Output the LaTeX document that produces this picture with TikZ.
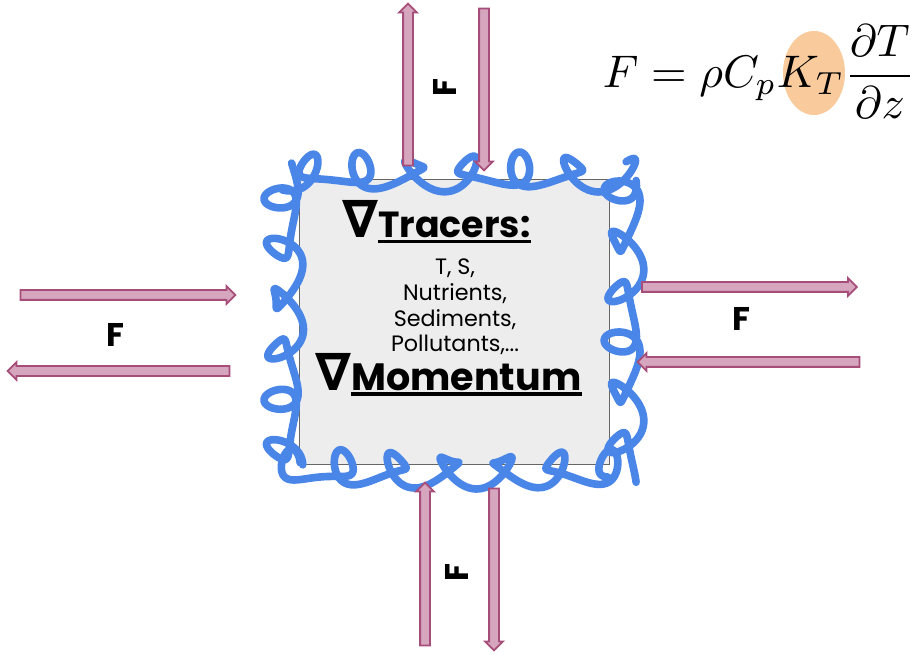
\documentclass[tikz,border=0pt]{standalone}
\usepackage{amsmath}
\usepackage{fontspec}
\setmainfont{Poppins}
\newfontfamily\symfont{DejaVu Sans}
\usetikzlibrary{shapes.arrows, positioning}
\definecolor{fluxfill}{HTML}{D5A6BD}
\definecolor{fluxedge}{HTML}{A64D79}
\definecolor{wiggle}{HTML}{4A86E8}
\definecolor{cellbg}{HTML}{EDEDED}
\definecolor{kthilite}{HTML}{F9CB9C}

\begin{document}
\begin{tikzpicture}[x=0.03cm, y=-0.03cm,
  every node/.style={text=black},
  flux/.style={single arrow, draw=fluxedge, fill=fluxfill, line width=1.5pt,
    inner xsep=0pt, inner ysep=0.12cm, minimum width=0pt,
    single arrow head extend=0.12cm, single arrow head indent=0pt},
  fluxlabel/.style={font=\fontsize{28}{30}\selectfont\bfseries, inner sep=0pt},
  headword/.style={font=\fontsize{31}{34}\selectfont\bfseries, inner sep=0pt},
  gradsym/.style={font=\fontsize{44}{46}\selectfont\symfont\bfseries, inner sep=0pt},
  uline/.style={line width=2.6pt},
  turbulence/.style={wiggle, line width=6.5pt, line join=round, line cap=round}
]
\useasboundingbox (0,0) rectangle (923,655);

% control volume
\node[draw=black!60, fill=cellbg, line width=1pt, inner sep=0pt,
  minimum width=9.3cm, minimum height=8.55cm] (cell) at (454.5,322) {};

% headings and tracer list
\node[headword, anchor=base west] (tracers) at (378,238) {Tracers:};
\node[gradsym, anchor=base east] (gradT) at ([xshift=0.03cm]tracers.base west) {∇};
\draw[uline] ([yshift=-0.1cm]tracers.base west) -- ([yshift=-0.1cm]tracers.base east);

\node[align=center, font=\fontsize{19}{22}\selectfont, inner sep=0pt] (tlist)
  at (455,307) {T, S,\\Nutrients,\\Sediments,\\Pollutants,...};

\node[headword, font=\fontsize{32.5}{34}\selectfont\bfseries, anchor=base west]
  (momentum) at (351,390) {Momentum};
\node[gradsym, anchor=base east] (gradM) at ([xshift=0.03cm]momentum.base west) {∇};
\draw[uline] ([yshift=-0.12cm]momentum.base west) -- ([yshift=-0.12cm]momentum.base east);

% turbulent edge, one side at a time
\draw[turbulence] plot[domain=0:1, samples=360]
  ({282+344*\x+21*sin(2340*\x)}, {172+14*cos(2340*\x)+6*sin(3960*\x+40)});
\draw[turbulence] plot[domain=0:1, samples=360]
  ({624+14*cos(2160*\x+30)+6*sin(3600*\x)}, {170+302*\x+21*sin(2160*\x+30)});
\draw[turbulence] plot[domain=0:1, samples=360]
  ({626-344*\x-21*sin(2340*\x+60)}, {469+14*cos(2340*\x+60)+6*sin(4320*\x+10)});
\draw[turbulence] plot[domain=0:1, samples=360]
  ({284+14*cos(2160*\x+20)+6*sin(3780*\x+70)}, {472-302*\x-21*sin(2160*\x+20)});

% flux arrows, top
\node[flux, minimum height=4.86cm, rotate=90] (topup) at (408,87) {};
\node[flux, minimum height=4.86cm, rotate=-90] (topdown) at (484,87) {};
\node[fluxlabel, rotate=90] (Ftop) at (445,88) {F};

% flux arrows, left
\node[flux, minimum height=6.45cm] (leftin) at (125.5,295) {};
\node[flux, minimum height=6.66cm, rotate=180] (leftout) at (121,371) {};
\node[fluxlabel] (Fleft) at (115,335) {F};

% flux arrows, right
\node[flux, minimum height=6.45cm] (rightout) at (747,287) {};
\node[flux, minimum height=6.66cm, rotate=180] (rightin) at (751,362) {};
\node[fluxlabel] (Fright) at (741,319) {F};

% flux arrows, bottom
\node[flux, minimum height=4.89cm, rotate=90] (botup) at (425,566.5) {};
\node[flux, minimum height=4.86cm, rotate=-90] (botdown) at (494,567) {};
\node[fluxlabel, rotate=90] (Fbot) at (457,573) {F};

% flux law
\fill[kthilite] (814,73) ellipse [x radius=31, y radius=42];
\node[inner sep=0pt] (fluxlaw) at (759,72)
  {\scalebox{3.9}{$F=\rho C_p K_T\dfrac{\partial T}{\partial z}$}};

\end{tikzpicture}
\end{document}
